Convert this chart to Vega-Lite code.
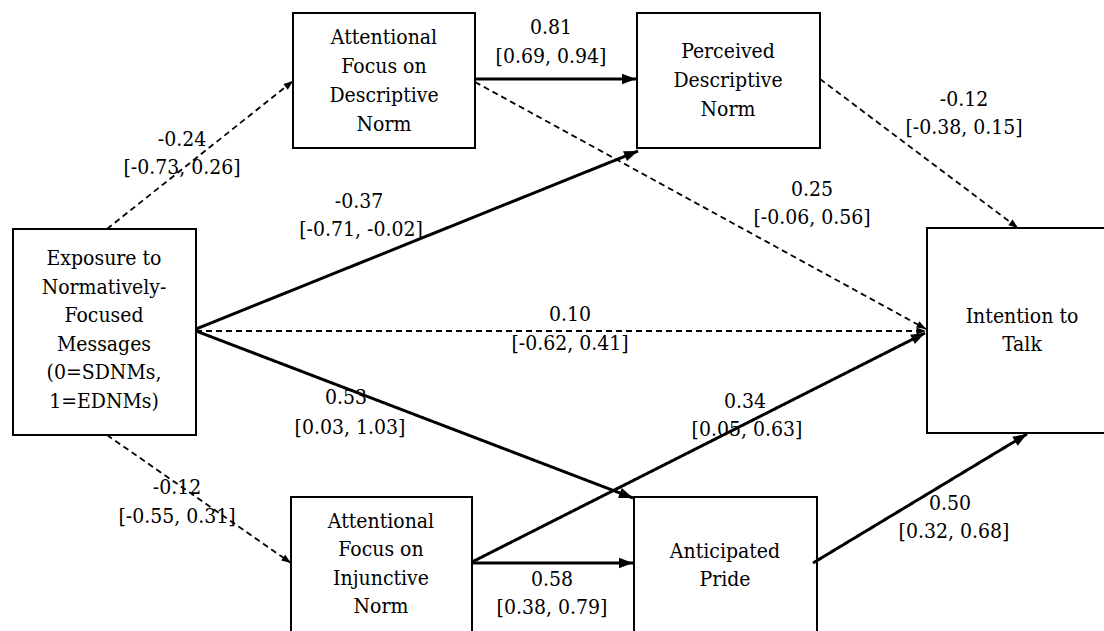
{
  "$schema": "https://vega.github.io/schema/vega-lite/v6.json",
  "width": 1104,
  "height": 631,
  "padding": 0,
  "autosize": {"type": "fit", "contains": "padding"},
  "background": "white",
  "config": {"view": {"stroke": null}},
  "datasets": {
    "boxes": [
      {"name": "Attentional Focus on Descriptive Norm", "x": 293, "x2": 475, "y": 13, "y2": 148},
      {"name": "Perceived Descriptive Norm", "x": 637, "x2": 820, "y": 13, "y2": 148},
      {"name": "Exposure", "x": 13, "x2": 196, "y": 229, "y2": 435},
      {"name": "Intention to Talk", "x": 927, "x2": 1130, "y": 228, "y2": 433},
      {"name": "Attentional Focus on Injunctive Norm", "x": 291, "x2": 472, "y": 497, "y2": 660},
      {"name": "Anticipated Pride", "x": 634, "x2": 817, "y": 497, "y2": 660}
    ],
    "edges": [
      {"path": "Exposure -> AF Descriptive", "x": 107, "y": 229, "x2": 293, "y2": 81, "sig": "dashed"},
      {"path": "AF Descriptive -> Perceived DN", "x": 475, "y": 79, "x2": 636, "y2": 79, "sig": "solid"},
      {"path": "AF Descriptive -> Intention", "x": 475, "y": 82, "x2": 926, "y2": 329, "sig": "dashed"},
      {"path": "Perceived DN -> Intention", "x": 820, "y": 79, "x2": 1018, "y2": 228, "sig": "dashed"},
      {"path": "Exposure -> Perceived DN", "x": 196, "y": 329, "x2": 638, "y2": 151, "sig": "solid"},
      {"path": "Exposure -> Intention", "x": 196, "y": 331, "x2": 926, "y2": 331, "sig": "dashed"},
      {"path": "Exposure -> Pride", "x": 196, "y": 331, "x2": 633, "y2": 498, "sig": "solid"},
      {"path": "Exposure -> AF Injunctive", "x": 107, "y": 435, "x2": 291, "y2": 563, "sig": "dashed"},
      {"path": "AF Injunctive -> Intention", "x": 472, "y": 562, "x2": 925, "y2": 333, "sig": "solid"},
      {"path": "AF Injunctive -> Pride", "x": 472, "y": 563, "x2": 633, "y2": 563, "sig": "solid"},
      {"path": "Pride -> Intention", "x": 813, "y": 563, "x2": 1027, "y2": 434, "sig": "solid"}
    ],
    "texts": [
      {"t": "Attentional", "x": 384, "y": 38},
      {"t": "Focus on", "x": 384, "y": 67},
      {"t": "Descriptive", "x": 384, "y": 96},
      {"t": "Norm", "x": 384, "y": 125},
      {"t": "Perceived", "x": 728, "y": 52},
      {"t": "Descriptive", "x": 728, "y": 81},
      {"t": "Norm", "x": 728, "y": 110},
      {"t": "Exposure to", "x": 104, "y": 259},
      {"t": "Normatively-", "x": 104, "y": 288},
      {"t": "Focused", "x": 104, "y": 316},
      {"t": "Messages", "x": 104, "y": 345},
      {"t": "(0=SDNMs,", "x": 104, "y": 373},
      {"t": "1=EDNMs)", "x": 104, "y": 402},
      {"t": "Intention to", "x": 1022, "y": 317},
      {"t": "Talk", "x": 1022, "y": 345},
      {"t": "Attentional", "x": 381, "y": 522},
      {"t": "Focus on", "x": 381, "y": 550},
      {"t": "Injunctive", "x": 381, "y": 579},
      {"t": "Norm", "x": 381, "y": 607},
      {"t": "Anticipated", "x": 725, "y": 552},
      {"t": "Pride", "x": 725, "y": 580},
      {"t": "0.81", "x": 551, "y": 28},
      {"t": "[0.69, 0.94]", "x": 551, "y": 57},
      {"t": "-0.24", "x": 182, "y": 140},
      {"t": "[-0.73, 0.26]", "x": 182, "y": 168},
      {"t": "-0.37", "x": 359, "y": 202},
      {"t": "[-0.71, -0.02]", "x": 361, "y": 230},
      {"t": "-0.12", "x": 964, "y": 100},
      {"t": "[-0.38, 0.15]", "x": 964, "y": 128},
      {"t": "0.25", "x": 812, "y": 190},
      {"t": "[-0.06, 0.56]", "x": 812, "y": 218},
      {"t": "0.10", "x": 570, "y": 315},
      {"t": "[-0.62, 0.41]", "x": 570, "y": 344},
      {"t": "0.53", "x": 346, "y": 398},
      {"t": "[0.03, 1.03]", "x": 350, "y": 428},
      {"t": "-0.12", "x": 177, "y": 488},
      {"t": "[-0.55, 0.31]", "x": 177, "y": 517},
      {"t": "0.34", "x": 745, "y": 402},
      {"t": "[0.05, 0.63]", "x": 747, "y": 430},
      {"t": "0.58", "x": 552, "y": 580},
      {"t": "[0.38, 0.79]", "x": 552, "y": 608},
      {"t": "0.50", "x": 950, "y": 504},
      {"t": "[0.32, 0.68]", "x": 954, "y": 532}
    ]
  },
  "layer": [
    {
      "data": {"name": "boxes"},
      "mark": {"type": "rect", "fill": "white", "stroke": "black", "strokeWidth": 2, "clip": true},
      "encoding": {
        "x": {"field": "x", "type": "quantitative", "scale": {"domain": [0, 1104], "nice": false, "zero": false}, "axis": null},
        "x2": {"field": "x2"},
        "y": {"field": "y", "type": "quantitative", "scale": {"domain": [0, 631], "nice": false, "zero": false, "reverse": true}, "axis": null},
        "y2": {"field": "y2"}
      }
    },
    {
      "data": {"name": "edges"},
      "mark": {"type": "rule", "color": "black"},
      "encoding": {
        "x": {"field": "x", "type": "quantitative", "axis": null},
        "x2": {"field": "x2"},
        "y": {"field": "y", "type": "quantitative", "axis": null},
        "y2": {"field": "y2"},
        "strokeDash": {"field": "sig", "type": "nominal", "scale": {"domain": ["solid", "dashed"], "range": [[1, 0], [6, 4]]}, "legend": null},
        "strokeWidth": {"field": "sig", "type": "nominal", "scale": {"domain": ["solid", "dashed"], "range": [3, 1.8]}, "legend": null}
      }
    },
    {
      "data": {"name": "edges"},
      "transform": [
        {"calculate": "atan2(datum.x2 - datum.x, datum.y - datum.y2) * 180 / PI", "as": "ang"}
      ],
      "mark": {"type": "point", "filled": true, "color": "black", "opacity": 1, "strokeWidth": 0, "shape": "M0,0L-0.75,2L0.75,2Z"},
      "encoding": {
        "x": {"field": "x2", "type": "quantitative", "axis": null},
        "y": {"field": "y2", "type": "quantitative", "axis": null},
        "angle": {"field": "ang", "type": "quantitative", "scale": null},
        "size": {"field": "sig", "type": "nominal", "scale": {"domain": ["solid", "dashed"], "range": [196, 90]}, "legend": null}
      }
    },
    {
      "data": {"name": "texts"},
      "mark": {"type": "text", "font": "DejaVu Serif Condensed, DejaVu Serif", "fontSize": 21, "color": "black", "align": "center", "baseline": "middle"},
      "encoding": {
        "x": {"field": "x", "type": "quantitative", "axis": null},
        "y": {"field": "y", "type": "quantitative", "axis": null},
        "text": {"field": "t", "type": "nominal"}
      }
    }
  ]
}
